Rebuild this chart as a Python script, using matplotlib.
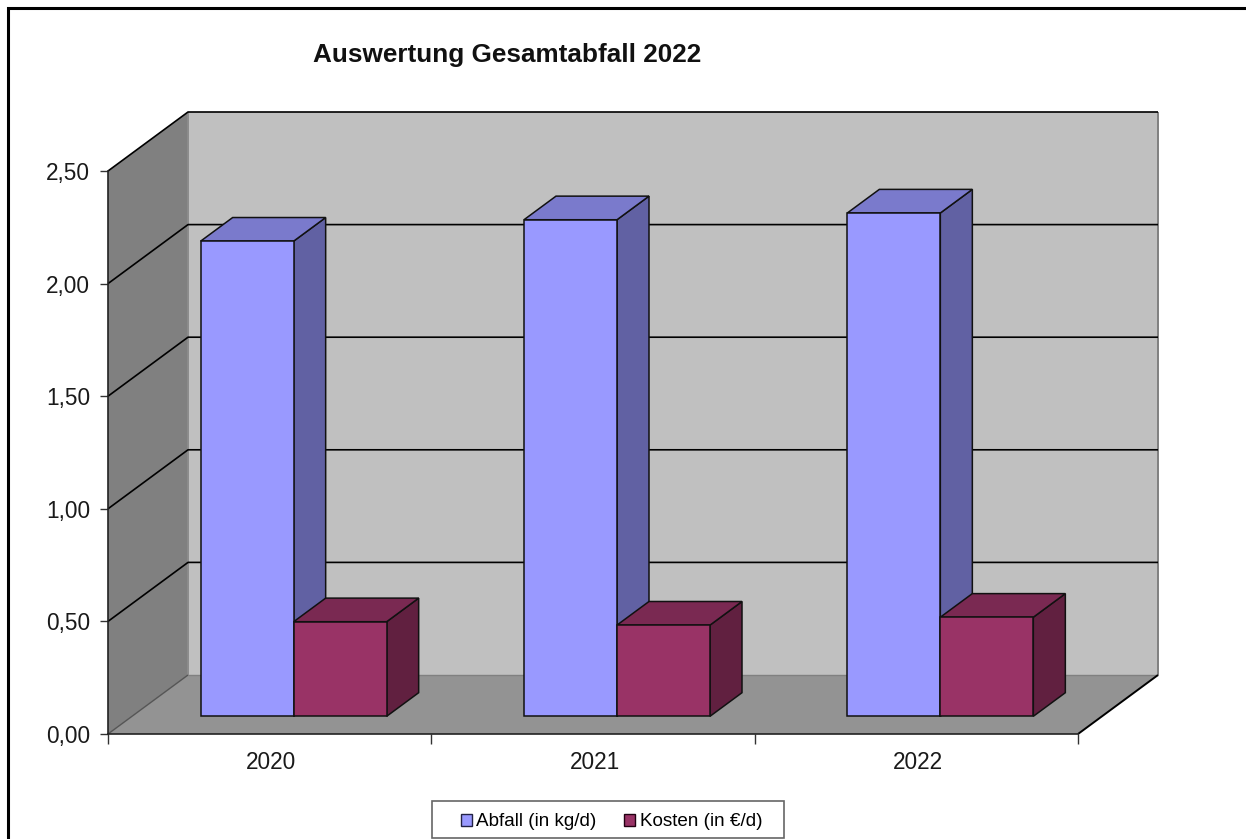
import matplotlib
matplotlib.use('Agg')
import matplotlib.pyplot as plt
from matplotlib.lines import Line2D
from matplotlib.patches import Patch, Rectangle

plt.rcParams['font.family'] = ['Liberation Sans', 'DejaVu Sans']

years = ['2020', '2021', '2022']
abfall = [2.11, 2.205, 2.235]
kosten = [0.42, 0.405, 0.44]
yticks = [0.0, 0.5, 1.0, 1.5, 2.0, 2.5]

W, H = 1246, 839
fig = plt.figure(figsize=(W / 100, H / 100), dpi=100, facecolor='white')
ax = fig.add_axes([108 / W, 1 - 734 / H, 970 / W, 563 / H])
ax.set_xlim(0, 3)
ax.set_ylim(0, 2.5)
ax.patch.set_visible(False)

# depth of the box, in data units of each axis
DX = 80 * 3 / 970
DY = 59 * 2.5 / 563
BAR_W = 93 * 3 / 970
BAR_FRONT = 0.3
BAR_DEPTH = 0.4


def poly(xs, ys, color, edge='none', lw=0.0, z=1):
    ax.fill(xs, ys, facecolor=color, edgecolor=edge, linewidth=lw, zorder=z,
            clip_on=False, joinstyle='miter')


def line(xs, ys, color='black', lw=1.1, z=2):
    ax.plot(xs, ys, color=color, lw=lw, zorder=z, clip_on=False, solid_capstyle='butt')


# walls and floor
poly([0, DX, DX, 0], [0, DY, 2.5 + DY, 2.5], '#808080')
poly([DX, 3 + DX, 3 + DX, DX], [DY, DY, 2.5 + DY, 2.5 + DY], '#c0c0c0')
poly([0, 3, 3 + DX, DX], [0, 0, DY, DY], '#939393')
line([DX, DX], [DY, 2.5 + DY], '#8c8c8c', 1.4)
line([3 + DX, 3 + DX], [DY, 2.5 + DY], '#808080', 1.4)
line([DX, 3 + DX], [DY, DY], '#808080', 1.0)
line([0, DX], [0, DY], '#555555', 1.0)
line([3, 3 + DX], [0, DY], 'black', 1.4)

# gridlines run along the left wall and across the back
for v in yticks[1:]:
    line([0, DX, 3 + DX], [v, v + DY, v + DY], 'black', 1.2)


def bar3d(x0, value, front, top, side, z):
    fx = BAR_FRONT * DX
    fy = BAR_FRONT * DY
    bx = BAR_DEPTH * DX
    by = BAR_DEPTH * DY
    xl = x0 + fx
    xr = xl + BAR_W
    yb = fy
    yt = fy + value
    ec = '#111111'
    poly([xr, xr + bx, xr + bx, xr], [yb, yb + by, yt + by, yt], side, ec, 1.1, z)
    poly([xl, xr, xr + bx, xl + bx], [yt, yt, yt + by, yt + by], top, ec, 1.1, z)
    ax.bar(xl, value, BAR_W, bottom=yb, align='edge', color=front, edgecolor=ec,
           linewidth=1.1, zorder=z, clip_on=False)


for i in range(len(years)):
    bar3d(i + 0.5 - BAR_W, abfall[i], '#9999ff', '#7a7acc', '#6161a3', 3)
    bar3d(i + 0.5, kosten[i], '#993366', '#7a2952', '#612040', 4)

# axes
for name in ['top', 'right']:
    ax.spines[name].set_visible(False)
for name in ['left', 'bottom']:
    ax.spines[name].set_linewidth(1.2)
    ax.spines[name].set_color('#222222')
    ax.spines[name].set_zorder(2.5)
ax.set_yticks(yticks)
ax.set_yticklabels([('%.2f' % v).replace('.', ',') for v in yticks])
ax.set_xticks([0, 1, 2, 3])
ax.set_xticklabels([])
ax.set_xticks([0.505, 1.505, 2.505], minor=True)
ax.set_xticklabels(years, minor=True)
ax.tick_params(axis='y', length=6, width=1.0, color='#333333', labelsize=16.3,
               labelcolor='#1a1a1a', pad=7)
ax.tick_params(axis='x', which='major', length=7, width=1.0, color='#333333')
ax.tick_params(axis='x', which='minor', length=0, labelsize=16.3,
               labelcolor='#1a1a1a', pad=12)

fig.text(507 / W, 1 - 55 / H, 'Auswertung Gesamtabfall 2022', fontsize=18.8,
         fontweight='bold', color='#111111', ha='center', va='center')

# legend box is drawn separately, it is wider than the entries need
fig.add_artist(Rectangle((432 / W, 1 - 838 / H), 352 / W, 37 / H, facecolor='white',
                         edgecolor='#666666', linewidth=1.2,
                         transform=fig.transFigure, zorder=5))
handles = [Patch(facecolor='#9999ff', edgecolor='#222244', label='Abfall (in kg/d)'),
           Patch(facecolor='#993366', edgecolor='#220011', label='Kosten (in €/d)')]
leg = fig.legend(handles=handles, ncol=2, loc='center left',
                 bbox_to_anchor=(461 / W, 1 - 822 / H), bbox_transform=fig.transFigure,
                 fontsize=13.6, frameon=False, borderaxespad=0, borderpad=0,
                 handlelength=0.6, handleheight=0.6, handletextpad=0.22,
                 columnspacing=1.45)
leg.set_zorder(6)

# sheet border on the left and top only
fig.add_artist(Line2D([7.5 / W, 7.5 / W, 1], [0, 1 - 7.5 / H, 1 - 7.5 / H],
                      color='black', lw=2.2, solid_joinstyle='miter'))

fig.savefig('out.png', dpi=100, facecolor='white')
